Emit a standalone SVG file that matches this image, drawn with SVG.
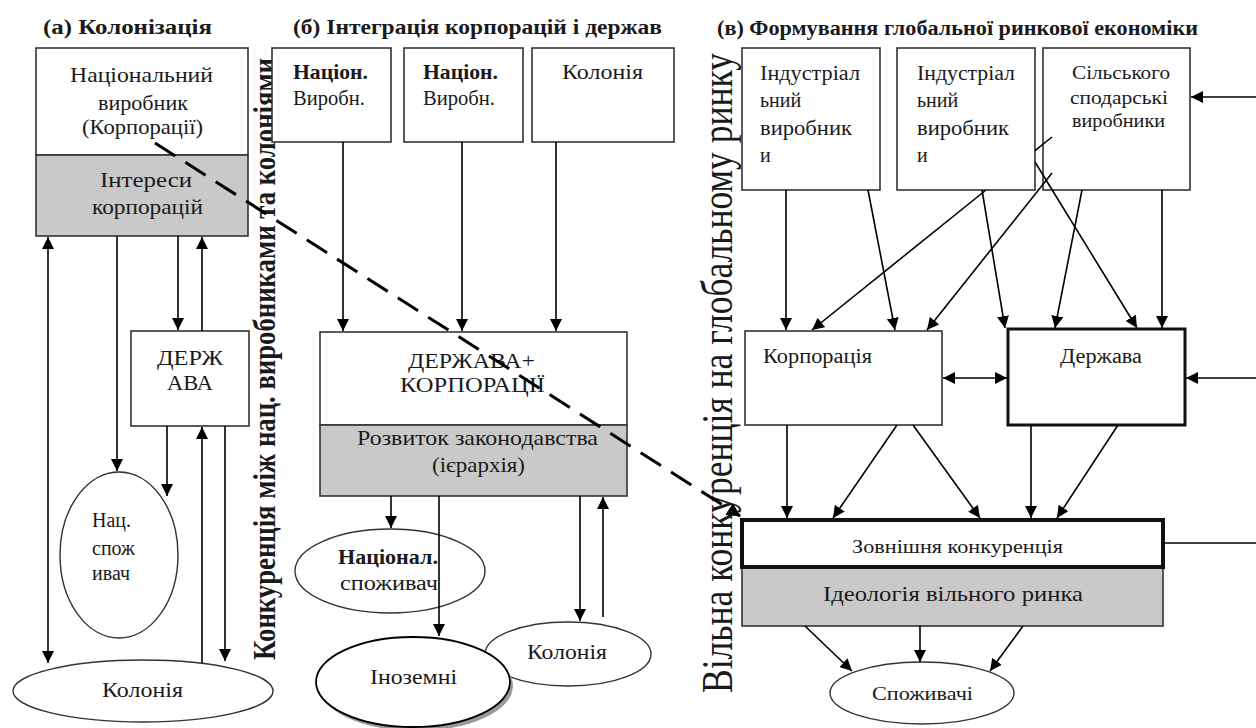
<svg xmlns="http://www.w3.org/2000/svg" width="1256" height="728" viewBox="0 0 1256 728">
<defs>
<marker id="ah" markerWidth="12" markerHeight="12" refX="12" refY="6" orient="auto-start-reverse" markerUnits="userSpaceOnUse"><path d="M0,0 L12,6 L0,12 z" fill="#000"/></marker>
<marker id="ahd" markerWidth="14" markerHeight="14" refX="13" refY="7" orient="auto" markerUnits="userSpaceOnUse"><path d="M0,0 L14,7 L0,14 z" fill="#000"/></marker>
</defs>
<style>
.t{font-family:"Liberation Serif","Times New Roman",serif;fill:#1a1a1a;dominant-baseline:central;}
.b{font-weight:bold;}
.box{fill:#fff;stroke:#333;stroke-width:1.6;}
.gray{fill:#c9c9c9;stroke:#333;stroke-width:1.6;}
.ell{fill:#fff;stroke:#333;stroke-width:1.4;}
.c{stroke:#000;stroke-width:1.6;fill:none;marker-end:url(#ah);}
.cb{stroke:#000;stroke-width:1.6;fill:none;marker-end:url(#ah);marker-start:url(#ah);}
.cl{stroke:#000;stroke-width:1.6;fill:none;}
</style>
<rect width="1256" height="728" fill="#fff"/>

<g id="titles">
<text class="t b" x="43" y="27" font-size="20" textLength="169" lengthAdjust="spacingAndGlyphs">(а)  Колонізація</text>
<text class="t b" x="293" y="27" font-size="20" textLength="369" lengthAdjust="spacingAndGlyphs">(б) Інтеграція корпорацій і держав</text>
<text class="t b" x="717" y="28" font-size="20" textLength="481" lengthAdjust="spacingAndGlyphs">(в) Формування глобальної ринкової економіки</text>
</g>

<g id="label-a-vertical">
<text class="t b" font-size="27" style="dominant-baseline:auto" transform="translate(275,660) rotate(-90) scale(1,1.2)" x="0" y="0" textLength="602" lengthAdjust="spacingAndGlyphs">Конкуренція між нац. виробниками та колоніями</text>
</g>
<g id="label-c-vertical">
<text class="t" font-size="36" style="dominant-baseline:auto" transform="translate(732,693) rotate(-90) scale(1,1.25)" x="0" y="0" textLength="640" lengthAdjust="spacingAndGlyphs">Вільна конкуренція на глобальному ринку</text>
</g>

<!-- (a) -->
<g id="a-producer">
<rect class="box" x="36" y="48" width="212" height="107"/>
<text class="t" x="70" y="75" font-size="21" textLength="143" lengthAdjust="spacingAndGlyphs">Національний</text>
<text class="t" x="98" y="103" font-size="21" textLength="90" lengthAdjust="spacingAndGlyphs">виробник</text>
<text class="t" x="82" y="127" font-size="21" textLength="121" lengthAdjust="spacingAndGlyphs">(Корпорації)</text>
</g>
<g id="a-interests">
<rect class="gray" x="36" y="155" width="212" height="81"/>
<text class="t" x="100" y="180" font-size="21" textLength="92" lengthAdjust="spacingAndGlyphs">Інтереси</text>
<text class="t" x="92" y="207" font-size="21" textLength="111" lengthAdjust="spacingAndGlyphs">корпорацій</text>
</g>
<g id="a-state">
<rect class="box" x="131" y="331" width="118" height="95" stroke-width="2.2"/>
<text class="t" x="157" y="358" font-size="20" textLength="66" lengthAdjust="spacingAndGlyphs">ДЕРЖ</text>
<text class="t" x="167" y="383" font-size="20" textLength="46" lengthAdjust="spacingAndGlyphs">АВА</text>
</g>
<g id="a-consumer">
<ellipse class="ell" cx="119" cy="555" rx="59" ry="83"/>
<text class="t" x="92" y="520" font-size="20">Нац.</text>
<text class="t" x="92" y="548" font-size="20">спож</text>
<text class="t" x="92" y="573" font-size="20">ивач</text>
</g>
<g id="a-colony">
<ellipse class="ell" cx="143" cy="691" rx="130" ry="31"/>
<text class="t" x="102" y="690" font-size="20" textLength="81" lengthAdjust="spacingAndGlyphs">Колонія</text>
</g>

<!-- (б) -->
<g id="b-prod1">
<rect class="box" x="272" y="48" width="119" height="94"/>
<text class="t b" x="293" y="72" font-size="20" textLength="75" lengthAdjust="spacingAndGlyphs">Націон.</text>
<text class="t" x="293" y="98" font-size="20" textLength="72" lengthAdjust="spacingAndGlyphs">Виробн.</text>
</g>
<g id="b-prod2">
<rect class="box" x="404" y="48" width="119" height="94"/>
<text class="t b" x="423" y="72" font-size="20" textLength="75" lengthAdjust="spacingAndGlyphs">Націон.</text>
<text class="t" x="423" y="98" font-size="20" textLength="72" lengthAdjust="spacingAndGlyphs">Виробн.</text>
</g>
<g id="b-colony-top">
<rect class="box" x="532" y="48" width="142" height="94"/>
<text class="t" x="562" y="72" font-size="20" textLength="81" lengthAdjust="spacingAndGlyphs">Колонія</text>
</g>
<g id="b-state-corp">
<rect class="box" x="320" y="332" width="307" height="93" stroke-width="2.2"/>
<text class="t" x="408" y="360" font-size="22" textLength="127" lengthAdjust="spacingAndGlyphs">ДЕРЖАВА+</text>
<text class="t" x="400" y="384" font-size="22" textLength="145" lengthAdjust="spacingAndGlyphs">КОРПОРАЦІЇ</text>
</g>
<g id="b-legislation">
<rect class="gray" x="320" y="425" width="307" height="71" stroke-width="2"/>
<text class="t" x="357" y="438" font-size="21" textLength="241" lengthAdjust="spacingAndGlyphs">Розвиток законодавства</text>
<text class="t" x="432" y="465" font-size="21" textLength="93" lengthAdjust="spacingAndGlyphs">(ієрархія)</text>
</g>
<g id="b-consumer">
<ellipse class="ell" cx="390" cy="571" rx="95" ry="42"/>
<text class="t b" x="338" y="557" font-size="20" textLength="100" lengthAdjust="spacingAndGlyphs">Націонал.</text>
<text class="t" x="340" y="583" font-size="20" textLength="98" lengthAdjust="spacingAndGlyphs">споживач</text>
</g>
<g id="b-colony">
<ellipse class="ell" cx="568" cy="654" rx="83" ry="32"/>
<text class="t" x="527" y="652" font-size="20" textLength="80" lengthAdjust="spacingAndGlyphs">Колонія</text>
</g>
<g id="b-foreign">
<ellipse cx="416" cy="686" rx="97" ry="45" fill="#9a9a9a"/>
<ellipse cx="413" cy="682" rx="97" ry="45" fill="#fff" stroke="#000" stroke-width="1.8"/>
<text class="t" x="370" y="677" font-size="20" textLength="87" lengthAdjust="spacingAndGlyphs">Іноземні</text>
</g>

<!-- (в) -->
<g id="c-ind1">
<rect class="box" x="742" y="48" width="138" height="142"/>
<text class="t" x="760" y="73" font-size="20" textLength="100" lengthAdjust="spacingAndGlyphs">Індустріал</text>
<text class="t" x="760" y="100" font-size="20">ьний</text>
<text class="t" x="760" y="128" font-size="20" textLength="92" lengthAdjust="spacingAndGlyphs">виробник</text>
<text class="t" x="760" y="155" font-size="20">и</text>
</g>
<g id="c-ind2">
<rect class="box" x="897" y="48" width="138" height="142"/>
<text class="t" x="917" y="73" font-size="20" textLength="98" lengthAdjust="spacingAndGlyphs">Індустріал</text>
<text class="t" x="917" y="100" font-size="20">ьний</text>
<text class="t" x="917" y="128" font-size="20" textLength="92" lengthAdjust="spacingAndGlyphs">виробник</text>
<text class="t" x="917" y="155" font-size="20">и</text>
</g>
<g id="c-agri">
<rect class="box" x="1043" y="48" width="147" height="142"/>
<text class="t" x="1072" y="72" font-size="19" textLength="98" lengthAdjust="spacingAndGlyphs">Сільського</text>
<text class="t" x="1070" y="97" font-size="19" textLength="98" lengthAdjust="spacingAndGlyphs">сподарські</text>
<text class="t" x="1072" y="120" font-size="19" textLength="93" lengthAdjust="spacingAndGlyphs">виробники</text>
</g>
<g id="c-corp">
<rect class="box" x="745" y="331" width="197" height="94"/>
<text class="t" x="763" y="356" font-size="20" textLength="109" lengthAdjust="spacingAndGlyphs">Корпорація</text>
</g>
<g id="c-state">
<rect x="1008" y="329" width="177" height="96" fill="#fff" stroke="#111" stroke-width="3"/>
<text class="t" x="1060" y="356" font-size="20" textLength="82" lengthAdjust="spacingAndGlyphs">Держава</text>
</g>
<g id="c-ideology">
<rect class="gray" x="742" y="567" width="421" height="59"/>
<text class="t" x="823" y="593" font-size="22" textLength="260" lengthAdjust="spacingAndGlyphs">Ідеологія вільного ринка</text>
</g>
<g id="c-external">
<rect x="742" y="520" width="421" height="47" fill="#fff" stroke="#111" stroke-width="4"/>
<text class="t" x="852" y="547" font-size="18" textLength="211" lengthAdjust="spacingAndGlyphs">Зовнішня конкуренція</text>
</g>
<g id="c-consumers">
<ellipse class="ell" cx="922" cy="693" rx="92" ry="31"/>
<text class="t" x="872" y="693" font-size="19" textLength="101" lengthAdjust="spacingAndGlyphs">Споживачі</text>
</g>

<g id="connectors">
<!-- (a) -->
<line class="cb" x1="48" y1="237" x2="48" y2="663"/>
<line class="c" x1="117" y1="236" x2="117" y2="471"/>
<line class="c" x1="178" y1="236" x2="178" y2="330"/>
<line class="c" x1="202" y1="331" x2="202" y2="237"/>
<line class="c" x1="167" y1="426" x2="167" y2="496"/>
<line class="c" x1="202" y1="663" x2="202" y2="427"/>
<line class="c" x1="225" y1="426" x2="225" y2="661"/>
<!-- (б) -->
<line class="c" x1="343" y1="142" x2="343" y2="331"/>
<line class="c" x1="462" y1="142" x2="462" y2="331"/>
<line class="c" x1="556" y1="142" x2="556" y2="331"/>
<line class="c" x1="391" y1="496" x2="391" y2="528"/>
<line class="c" x1="439" y1="496" x2="439" y2="636"/>
<line class="c" x1="580" y1="496" x2="580" y2="621"/>
<line class="c" x1="603" y1="617" x2="603" y2="497"/>
<!-- (в) -->
<line class="c" x1="786" y1="190" x2="786" y2="330"/>
<line class="c" x1="868" y1="190" x2="895" y2="330"/>
<line class="cl" x1="1052" y1="137" x2="1035" y2="150.7"/>
<line class="c" x1="986" y1="190" x2="812" y2="330"/>
<line class="c" x1="1052" y1="173" x2="927" y2="330"/>
<line class="c" x1="982" y1="190" x2="1005" y2="328"/>
<line class="c" x1="1035" y1="162" x2="1137" y2="328"/>
<line class="c" x1="1082" y1="190" x2="1055" y2="328"/>
<line class="c" x1="1162" y1="190" x2="1162" y2="328"/>
<line class="cb" x1="943" y1="378" x2="1007" y2="378"/>
<line class="c" x1="1256" y1="378" x2="1186" y2="378"/>
<line class="c" x1="1256" y1="97" x2="1191" y2="97"/>
<line class="cl" x1="1163" y1="543" x2="1256" y2="543"/>
<line class="c" x1="787" y1="425" x2="787" y2="518"/>
<line class="c" x1="897" y1="425" x2="833" y2="518"/>
<line class="c" x1="913" y1="425" x2="980" y2="518"/>
<line class="c" x1="1031" y1="425" x2="1031" y2="518"/>
<line class="c" x1="1118" y1="425" x2="1057" y2="518"/>
<line class="c" x1="805" y1="626" x2="852" y2="671"/>
<line class="c" x1="920" y1="626" x2="920" y2="662"/>
<line class="c" x1="1023" y1="626" x2="990" y2="671"/>
<!-- dashed -->
<line x1="155" y1="143" x2="740" y2="516" stroke="#000" stroke-width="3" stroke-dasharray="24 12" marker-end="url(#ahd)"/>
</g>
</svg>
